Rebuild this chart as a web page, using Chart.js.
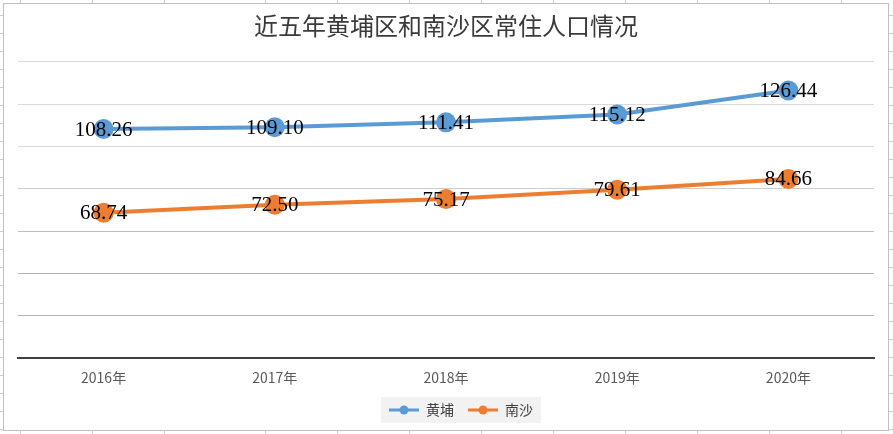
<!DOCTYPE html>
<html>
<head>
<meta charset="utf-8">
<script src="https://cdn.jsdelivr.net/npm/chart.js@4"></script>
<style>
  html, body { margin: 0; padding: 0; background: #fff; }
  #wrap { width: 893px; height: 434px; position: relative; }
</style>
</head>
<body>
<div id="wrap"><canvas id="popChart"></canvas></div>
<script>
// ============ DATA ============
const years = ['2016年', '2017年', '2018年', '2019年', '2020年'];
const huangpu = [108.26, 109.10, 111.41, 115.12, 126.44];
const nansha = [68.74, 72.50, 75.17, 79.61, 84.66];
const yTicks = [0, 20, 40, 60, 80, 100, 120, 140];

const BLUE = '#5b9bd5';
const ORANGE = '#ed7d31';

// legend marker: short line with a dot
function legendMarker(color) {
    const c = document.createElement('canvas');
    c.width = 30; c.height = 12;
    const g = c.getContext('2d');
    g.strokeStyle = color;
    g.lineWidth = 3;
    g.beginPath(); g.moveTo(0, 6); g.lineTo(30, 6); g.stroke();
    g.fillStyle = color;
    g.beginPath(); g.arc(15, 6, 4.5, 0, Math.PI * 2); g.fill();
    return c;
}

// sheet frame + excel cell ticks behind the chart
const sheetBg = {
    id: 'sheetBg',
    afterUpdate(chart) {
        // legend sits a bit right of centre in the original
        const lg = chart.legend;
        if (!lg) return;
        const dx = 15;
        lg.left += dx; lg.right += dx;
        (lg.legendHitBoxes || []).forEach(b => { b.left += dx; });
    },
    beforeDraw(chart) {
        const ctx = chart.ctx;
        ctx.save();
        ctx.strokeStyle = '#c6ccd8';
        ctx.lineWidth = 1;
        const cols = [20, 92, 164, 265, 337, 409, 481, 553, 625, 697, 769, 841];
        cols.forEach(x => {
            ctx.beginPath(); ctx.moveTo(x + 0.5, 0); ctx.lineTo(x + 0.5, 3); ctx.stroke();
            ctx.beginPath(); ctx.moveTo(x + 0.5, 431); ctx.lineTo(x + 0.5, 434); ctx.stroke();
        });
        for (let y = 15; y < 434; y += 18) {
            ctx.beginPath(); ctx.moveTo(0, y + 0.5); ctx.lineTo(3, y + 0.5); ctx.stroke();
            ctx.beginPath(); ctx.moveTo(889, y + 0.5); ctx.lineTo(893, y + 0.5); ctx.stroke();
        }
        ctx.strokeStyle = '#bfbfbf';
        ctx.strokeRect(3.5, 3.5, 885, 427);

        // legend background
        const boxes = chart.legend && chart.legend.legendHitBoxes;
        if (boxes && boxes.length) {
            const l = Math.min(...boxes.map(b => b.left)) - 8;
            const r = Math.max(...boxes.map(b => b.left + b.width)) + 8;
            const t = boxes[0].top - 6;
            const h = boxes[0].height + 12;
            ctx.fillStyle = '#f2f2f2';
            ctx.fillRect(l, t, r - l, h);
        }
        ctx.restore();
    }
};

// value labels centred on each point
const valueLabels = {
    id: 'valueLabels',
    afterDatasetsDraw(chart) {
        const ctx = chart.ctx;
        ctx.save();
        ctx.font = '21px "Liberation Serif", "DejaVu Serif", serif';
        ctx.fillStyle = '#000';
        ctx.textAlign = 'center';
        ctx.textBaseline = 'middle';
        chart.data.datasets.forEach((ds, i) => {
            chart.getDatasetMeta(i).data.forEach((pt, j) => {
                ctx.fillText(ds.data[j].toFixed(2), pt.x, pt.y + 1);
            });
        });
        ctx.restore();
    }
};

const gridColors = { 0: '#404040', 20: '#b3b3b3', 40: '#b3b3b3', 60: '#bfbfbf', 80: '#cccccc' };

new Chart(document.getElementById('popChart'), {
    type: 'line',
    data: {
        labels: years,
        datasets: [
            {
                label: '黄埔',
                data: huangpu,
                borderColor: BLUE,
                backgroundColor: BLUE,
                borderWidth: 4,
                pointRadius: 10,
                pointHoverRadius: 10,
                pointBorderWidth: 0,
                tension: 0
            },
            {
                label: '南沙',
                data: nansha,
                borderColor: ORANGE,
                backgroundColor: ORANGE,
                borderWidth: 4,
                pointRadius: 10,
                pointHoverRadius: 10,
                pointBorderWidth: 0,
                tension: 0
            }
        ]
    },
    options: {
        responsive: true,
        maintainAspectRatio: false,
        animation: false,
        layout: { padding: { left: 18, right: 19, top: 6, bottom: 7 } },
        plugins: {
            title: {
                display: true,
                text: '近五年黄埔区和南沙区常住人口情况',
                color: '#3a3a3a',
                font: { family: '"Noto Sans CJK SC", sans-serif', size: 24, weight: 'normal' },
                padding: { top: 5, bottom: 22 }
            },
            legend: {
                position: 'bottom',
                labels: {
                    usePointStyle: true,
                    pointStyleWidth: 30,
                    color: '#404040',
                    font: { family: '"Noto Sans CJK SC", sans-serif', size: 14 },
                    padding: 14,
                    generateLabels(chart) {
                        return chart.data.datasets.map((ds, i) => ({
                            text: ds.label,
                            fontColor: '#404040',
                            pointStyle: legendMarker(ds.borderColor),
                            fillStyle: ds.borderColor,
                            strokeStyle: ds.borderColor,
                            lineWidth: 0,
                            hidden: false,
                            datasetIndex: i
                        }));
                    }
                }
            },
            tooltip: { enabled: false }
        },
        scales: {
            x: {
                offset: true,
                grid: { display: false },
                border: { display: true, color: '#404040', width: 2 },
                ticks: {
                    color: '#595959',
                    padding: 3,
                    font: { family: '"Noto Sans CJK SC", sans-serif', size: 14 }
                }
            },
            y: {
                min: 0,
                max: 140,
                afterBuildTicks(axis) { axis.ticks = yTicks.map(v => ({ value: v })); },
                ticks: { display: false },
                border: { display: false },
                grid: {
                    drawTicks: false,
                    color: ctx => gridColors[ctx.tick.value] || '#d9d9d9',
                    lineWidth: ctx => ctx.tick.value === 0 ? 2 : 1
                }
            }
        }
    },
    plugins: [sheetBg, valueLabels]
});
</script>
</body>
</html>
